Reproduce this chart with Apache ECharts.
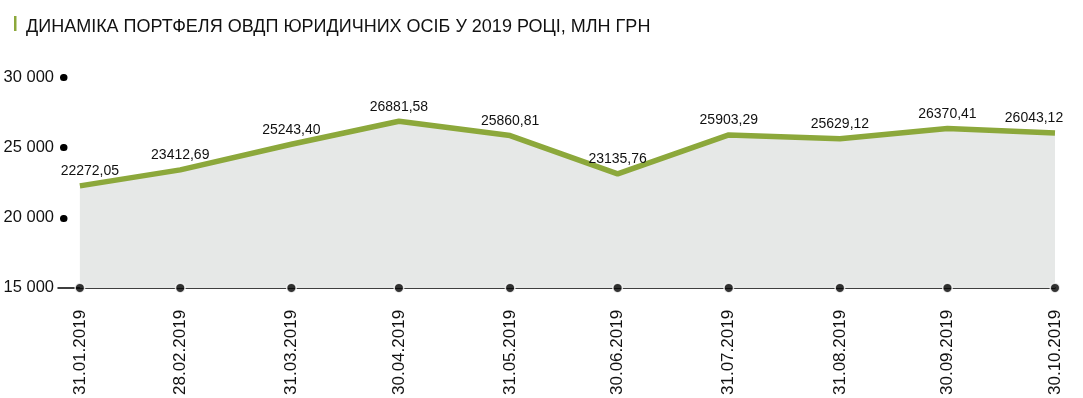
<!DOCTYPE html>
<html>
<head>
<meta charset="utf-8">
<script src="https://cdn.jsdelivr.net/npm/echarts@6/dist/echarts.min.js"></script>
<style>
html,body{margin:0;padding:0;background:#fff;}
#chart{width:1083px;height:398px;}
</style>
</head>
<body>
<div id="chart"></div>
<script>
const titleText = 'ДИНАМІКА ПОРТФЕЛЯ ОВДП ЮРИДИЧНИХ ОСІБ У 2019 РОЦІ, МЛН ГРН';
const dateLabels = ['31.01.2019','28.02.2019','31.03.2019','30.04.2019','31.05.2019','30.06.2019','31.07.2019','31.08.2019','30.09.2019','30.10.2019'];
const portfolio = [22272.05, 23412.69, 25243.40, 26881.58, 25860.81, 23135.76, 25903.29, 25629.12, 26370.41, 26043.12];
const yMin = 15000, yMax = 30000, yStep = 5000;
const yTickValues = [20000, 25000, 30000];

const FONT = "'Liberation Sans', Arial, sans-serif";
const GREEN = '#8ca83b';

// day of year for each date (position on the time scale)
const days = dateLabels.map(s => { const [d,m,y] = s.split('.').map(Number); return Math.round((Date.UTC(y, m-1, d) - Date.UTC(y, 0, 1)) / 86400000); });

const chart = echarts.init(document.getElementById('chart'), null, {renderer:'canvas'});
const fmtNum = v => v.toFixed(2).replace('.', ',');
const fmtThousands = v => String(v).replace(/\B(?=(\d{3})+(?!\d))/g, ' ');
const last = days.length - 1;

chart.setOption({
  animation: false,
  backgroundColor: '#fff',
  title: {
    text: titleText, left: 21, top: 13,
    textStyle: {fontFamily: FONT, fontSize: 18, fontWeight: 'normal', color: '#111'}
  },
  graphic: [{type:'rect', left: 14, top: 16, shape:{width:2.5, height:15}, style:{fill: GREEN}}],
  grid: {left: 58, right: 28, top: 77.5, bottom: 106, containLabel: false},
  xAxis: {
    type: 'value',
    min: days[0] - 6.1,
    max: days[last],
    axisLine: {show: true, lineStyle: {color: '#000', width: 1.5}},
    axisTick: {show: false},
    splitLine: {show: false},
    axisLabel: {
      customValues: days,
      rotate: 90, margin: 22,
      fontFamily: FONT, fontSize: 17, color: '#111',
      formatter: v => { const i = days.indexOf(v); return i >= 0 ? dateLabels[i] : ''; }
    }
  },
  yAxis: {
    type: 'value', min: yMin, max: yMax, interval: yStep,
    offset: -6,
    axisLine: {show: false},
    splitLine: {show: false},
    axisTick: {show: true, customValues: yTickValues, length: 0.5, lineStyle: {color:'#000', width: 7, cap: 'round'}},
    axisLabel: {margin: 10, fontFamily: FONT, fontSize: 16.5, color: '#111', formatter: fmtThousands}
  },
  series: [
    {
      type: 'line',
      data: days.map((t, i) => [t, portfolio[i]]),
      showSymbol: true, symbol: 'circle', symbolSize: 1,
      itemStyle: {color: 'rgba(0,0,0,0)', borderWidth: 0},
      lineStyle: {color: GREEN, width: 5.5},
      areaStyle: {color: '#e6e8e7', opacity: 1, origin: 'start'},
      label: {show: true, position: 'top', distance: 7, fontFamily: FONT, fontSize: 14, color: '#111',
        formatter: p => fmtNum(p.value[1])},
      labelLayout: p => ({dx: p.dataIndex === 0 ? 10 : (p.dataIndex === last ? -21 : 0), hideOverlap: false}),
      z: 2
    },
    {
      type: 'scatter',
      data: days.map(t => [t, yMin]),
      symbol: 'circle', symbolSize: 9.5,
      itemStyle: {color: '#000', borderColor: '#fff', borderWidth: 1.5},
      clip: false, z: 5, silent: true
    }
  ]
});
</script>
</body>
</html>
